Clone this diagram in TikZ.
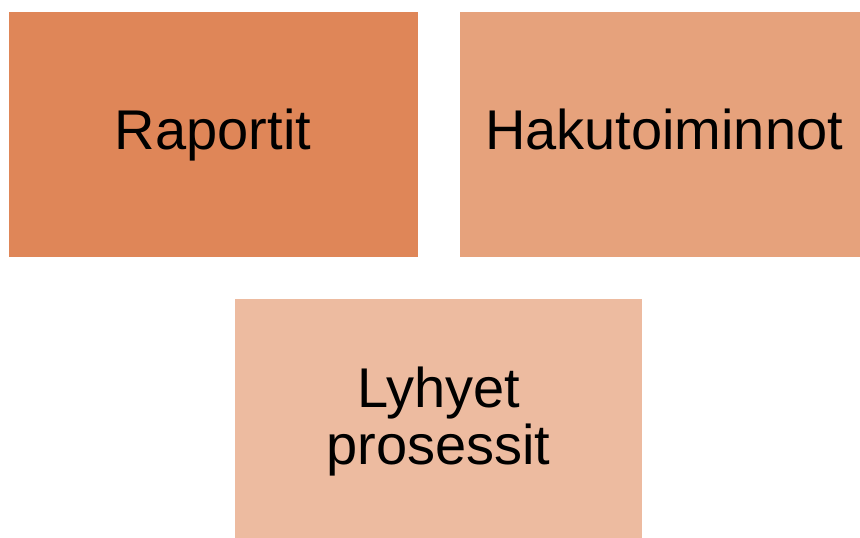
\documentclass[tikz,border=0pt]{standalone}
\usepackage{fontspec}
\setmainfont{Liberation Sans}
\usetikzlibrary{positioning,calc}
\definecolor{oranssi1}{HTML}{DF8658}
\definecolor{oranssi2}{HTML}{E6A27C}
\definecolor{oranssi3}{HTML}{EDBBA0}
\begin{document}
\begin{tikzpicture}[
      x=1pt, y=1pt,
      node distance=40pt,
      laatikko/.style={
        draw=white,
        line width=1pt,
        rectangle,
        minimum width=410pt,
        minimum height=246pt,
        align=center,
        inner sep=0pt,
        font=\fontsize{56}{57}\selectfont
      }
    ]
    \useasboundingbox (0,0) rectangle (860,538);
    \clip (0,0) rectangle (860,538);
    \node[laatikko, fill=oranssi1, anchor=north west] (raportit) at (7.5,526.5) {Raportit} ;
    \node[laatikko, fill=oranssi2, right=of raportit] (haku) {Hakutoiminnot\vphantom{p}} ;
    \node[coordinate] (keski) at ($(raportit.south)!0.5!(haku.south)$) {};
    \node[laatikko, fill=oranssi3, minimum width=408pt, below=of keski, anchor=north] (lyhyet) {Lyhyet\\prosessit} ;

  \end{tikzpicture}
\end{document}
